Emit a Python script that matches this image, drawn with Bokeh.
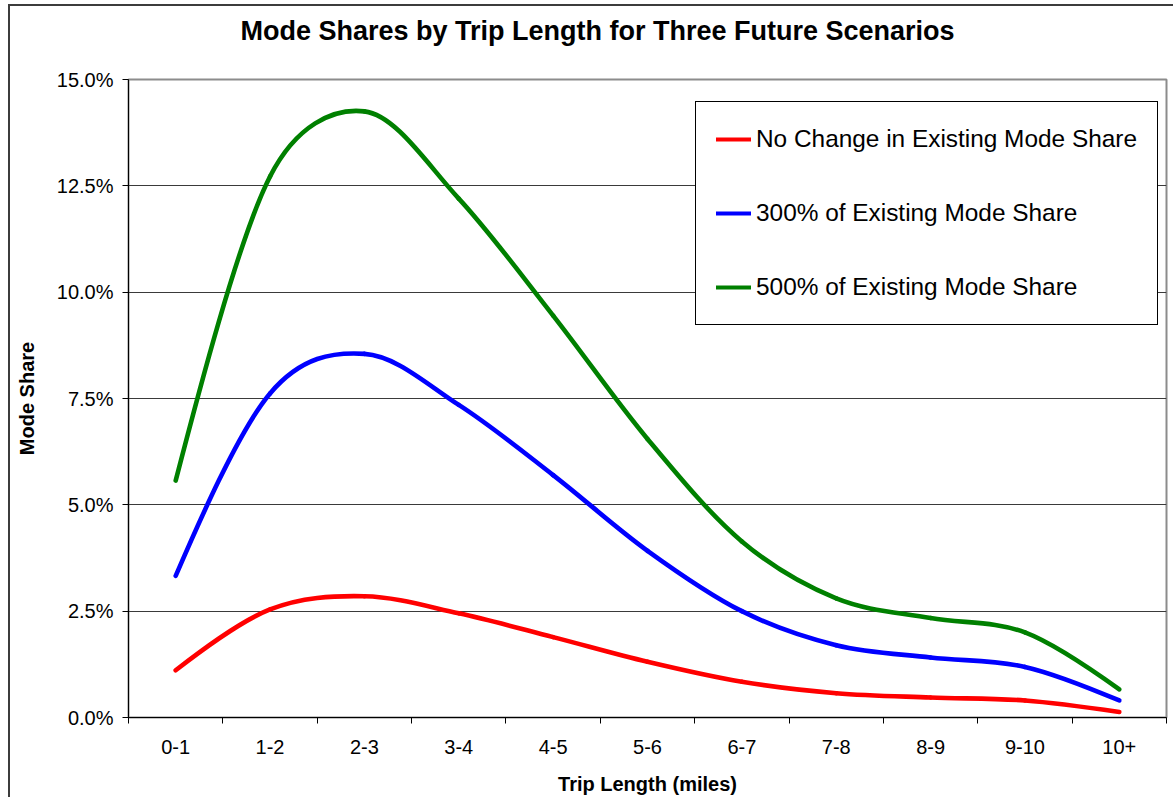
import numpy as np
from bokeh.plotting import figure
from bokeh.models import (Range1d, FixedTicker, PrintfTickFormatter, Legend,
                          LegendItem, Title)
from bokeh.embed import file_html
from bokeh.resources import INLINE

# ---------------- data ----------------
categories = ["0-1", "1-2", "2-3", "3-4", "4-5", "5-6", "6-7", "7-8", "8-9", "9-10", "10+"]
no_change = [1.11, 2.54, 2.85, 2.45, 1.89, 1.31, 0.84, 0.57, 0.47, 0.40, 0.13]
pct300 = [3.33, 7.62, 8.55, 7.35, 5.70, 3.92, 2.50, 1.70, 1.41, 1.19, 0.40]
pct500 = [5.57, 12.72, 14.25, 12.20, 9.45, 6.55, 4.14, 2.80, 2.34, 2.00, 0.66]
series_names = ["No Change in Existing Mode Share",
                "300% of Existing Mode Share",
                "500% of Existing Mode Share"]
series_values = [no_change, pct300, pct500]
series_colors = ["#ff0000", "#0000ff", "#008000"]
y_ticks = [0, 2.5, 5, 7.5, 10, 12.5, 15]
title_text = "Mode Shares by Trip Length for Three Future Scenarios"
x_title = "Trip Length (miles)"
y_title = "Mode Share"

FONT = "Liberation Sans"

n = len(categories)
xc = np.arange(n) + 0.5
Y_MAX = 15.0

W, H = 1173, 797
BL, BR, BT, BB = 128, 7, 79, 80
FRAME_W = W - BL - BR
FRAME_H = H - BT - BB
SX = FRAME_W / n          # px per category
SY = FRAME_H / Y_MAX      # px per percent

p = figure(width=W, height=H,
           x_range=Range1d(0, n), y_range=Range1d(0, Y_MAX),
           output_backend="svg", toolbar_location=None,
           min_border_left=BL, min_border_right=BR,
           min_border_top=BT, min_border_bottom=BB)
p.background_fill_color = "white"
p.border_fill_color = "white"
p.border_fill_alpha = 0.0
p.outline_line_color = "#8c8c8c"
p.outline_line_width = 2
p.styles = {
    "background-color": "white",
    "background-image": "linear-gradient(#3c3c3c, #3c3c3c), linear-gradient(#3c3c3c, #3c3c3c)",
    "background-size": "2px 100%, 100% 2px",
    "background-position": "8px 4px, 8px 4px",
    "background-repeat": "no-repeat",
}


def excel_smooth(xs, ys):
    """Bezier segments in the spirit of Excel's smoothed line (tension 1/6,
    control arms limited to half of the segment length, in screen space)."""
    P = np.column_stack([np.asarray(xs, float) * SX, np.asarray(ys, float) * SY])
    m = len(P)
    f = 1.0 / 6.0
    segs = []
    for i in range(m - 1):
        p1, p2 = P[i], P[i + 1]
        p0 = P[i - 1] if i > 0 else p1
        p3 = P[i + 2] if i + 2 < m else p2
        d12 = np.hypot(*(p2 - p1))
        a1 = (p2 - p0) * f
        a2 = (p3 - p1) * f
        for a in (a1, a2):
            la = np.hypot(*a)
            if la > d12 / 2 and la > 0:
                a *= (d12 / 2) / la
        segs.append([p1, p1 + a1, p2 - a2, p2])
    # end segments: let the free end aim at the neighbouring control point
    if len(segs) > 1:
        s = segs[0]
        s[1] = s[0] + (s[2] - s[0]) / 3.0
        s = segs[-1]
        s[2] = s[3] + (s[1] - s[3]) / 3.0
    out = {k: [] for k in ("x0", "y0", "x1", "y1", "cx0", "cy0", "cx1", "cy1")}
    for a, c1, c2, b in segs:
        out["x0"].append(a[0] / SX); out["y0"].append(a[1] / SY)
        out["x1"].append(b[0] / SX); out["y1"].append(b[1] / SY)
        out["cx0"].append(c1[0] / SX); out["cy0"].append(c1[1] / SY)
        out["cx1"].append(c2[0] / SX); out["cy1"].append(c2[1] / SY)
    return out


legend_items = []
for name, vals, col in zip(series_names, series_values, series_colors):
    seg = excel_smooth(xc, vals)
    p.bezier(source=seg, x0="x0", y0="y0", x1="x1", y1="y1",
             cx0="cx0", cy0="cy0", cx1="cx1", cy1="cy1",
             line_color=col, line_width=4.6, line_cap="round")
    r = p.line(x=[np.nan], y=[np.nan], line_color=col, line_width=4, line_cap="round")
    legend_items.append(LegendItem(label=name, renderers=[r]))

# axes
p.xaxis.ticker = FixedTicker(ticks=list(xc), minor_ticks=list(range(n + 1)))
p.xaxis.major_label_overrides = {float(v): c for v, c in zip(xc, categories)}
p.xaxis.major_tick_line_color = None
p.xaxis.minor_tick_in = 0
p.xaxis.minor_tick_out = 6
p.xaxis.minor_tick_line_color = "black"
p.xaxis.axis_line_color = "black"
p.xaxis.major_label_standoff = 16
p.xaxis.axis_label = x_title
p.xaxis.axis_label_standoff = 16

p.yaxis.ticker = FixedTicker(ticks=y_ticks)
p.yaxis.formatter = PrintfTickFormatter(format="%.1f%%")
p.yaxis.major_tick_in = 0
p.yaxis.major_tick_out = 6
p.yaxis.major_tick_line_color = "black"
p.yaxis.minor_tick_line_color = None
p.yaxis.axis_line_color = "black"
p.yaxis.major_label_standoff = 9
p.yaxis.axis_label = y_title
p.yaxis.axis_label_standoff = 16

for ax in (p.xaxis[0], p.yaxis[0]):
    ax.major_label_text_font = FONT
    ax.major_label_text_font_size = "20px"
    ax.major_label_text_color = "black"
    ax.axis_label_text_font = FONT
    ax.axis_label_text_font_size = "20px"
    ax.axis_label_text_font_style = "bold"
    ax.axis_label_text_color = "black"

p.xgrid.grid_line_color = None
p.ygrid.grid_line_color = "#3a3a3a"
p.ygrid.grid_line_width = 1

legend = Legend(items=legend_items, location=(567, 392),
                label_text_font=FONT, label_text_font_size="24.4px",
                label_text_color="black",
                glyph_width=35, glyph_height=34, label_height=34,
                label_standoff=5, spacing=40, padding=20, margin=0,
                border_line_color="black", border_line_width=1,
                border_line_alpha=1.0,
                background_fill_color="white", background_fill_alpha=1.0)
p.add_layout(legend)

# real title (outermost) plus a blank spacer title between it and the frame
p.title.text = title_text
p.title.align = "left"
p.title.offset = 112
p.title.text_font = FONT
p.title.text_font_size = "27px"
p.title.text_font_style = "bold"
p.title.text_color = "black"
p.title.standoff = 2
spacer = Title(text=" ", text_font_size="10px", standoff=20)
p.add_layout(spacer, "above")

open("out.html", "w").write(file_html(p, INLINE))
